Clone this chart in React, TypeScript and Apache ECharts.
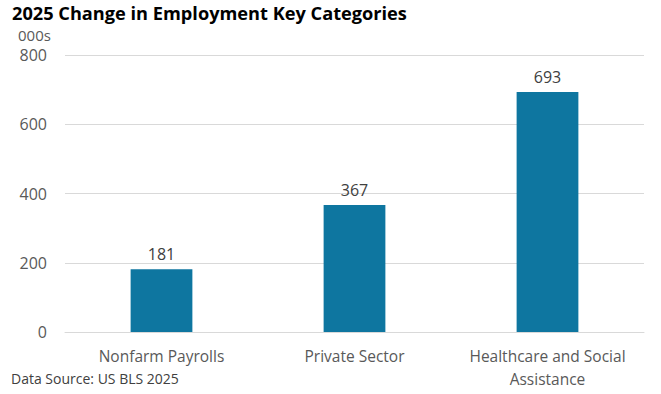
import React, { useEffect, useRef } from "react";
import * as echarts from "echarts";

const categories = ["Nonfarm Payrolls", "Private Sector", "Healthcare and Social\nAssistance"];
const values = [181, 367, 693];
const titleText = "2025 Change in Employment Key Categories";
const unitText = "000s";
const sourceText = "Data Source: US BLS 2025";

export default function App() {
  const ref = useRef<HTMLDivElement>(null);
  useEffect(() => {
    if (!ref.current) return;
    const chart = echarts.init(ref.current, undefined, { renderer: "svg" });
    const font = "Open Sans, Noto Sans, sans-serif";
    chart.setOption({
      animation: false,
      textStyle: { fontFamily: font },
      grid: { left: 65, right: 17, top: 55, bottom: 62, containLabel: false },
      title: {
        text: titleText,
        left: 7,
        top: 0,
        padding: [3, 5, 0, 5],
        textStyle: { fontSize: 18.2, fontWeight: "bold", color: "#000", fontFamily: font, lineHeight: 20 },
      },
      graphic: [
        {
          type: "text",
          left: 18,
          top: 27,
          style: { text: unitText, fontSize: 15, lineHeight: 14, fill: "#595959", fontFamily: font },
        },
        {
          type: "text",
          left: 11,
          top: 371,
          style: { text: sourceText, fontSize: 14, fill: "#404040", fontFamily: font },
        },
      ],
      xAxis: {
        type: "category",
        data: categories,
        axisLine: { show: true, lineStyle: { color: "#d9d9d9" } },
        axisTick: { show: false },
        axisLabel: { interval: 0, color: "#595959", fontSize: 15.5, margin: 12, lineHeight: 23, fontFamily: font },
      },
      yAxis: {
        type: "value",
        min: 0,
        max: 800,
        interval: 200,
        axisLine: { show: false },
        axisTick: { show: false },
        splitLine: { lineStyle: { color: "#d9d9d9" } },
        axisLabel: { color: "#595959", fontSize: 16, lineHeight: 16, margin: 18, fontFamily: font },
      },
      series: [
        {
          type: "bar",
          data: values,
          barWidth: "32%",
          itemStyle: { color: "#0e76a0" },
          label: {
            show: true,
            position: "top",
            distance: 7,
            color: "#404040",
            fontSize: 16,
            fontFamily: font,
          },
        },
      ],
    });
    return () => chart.dispose();
  }, []);
  return <div ref={ref} style={{ width: 661, height: 394, position: "absolute", left: 0, top: 0 }} />;
}
